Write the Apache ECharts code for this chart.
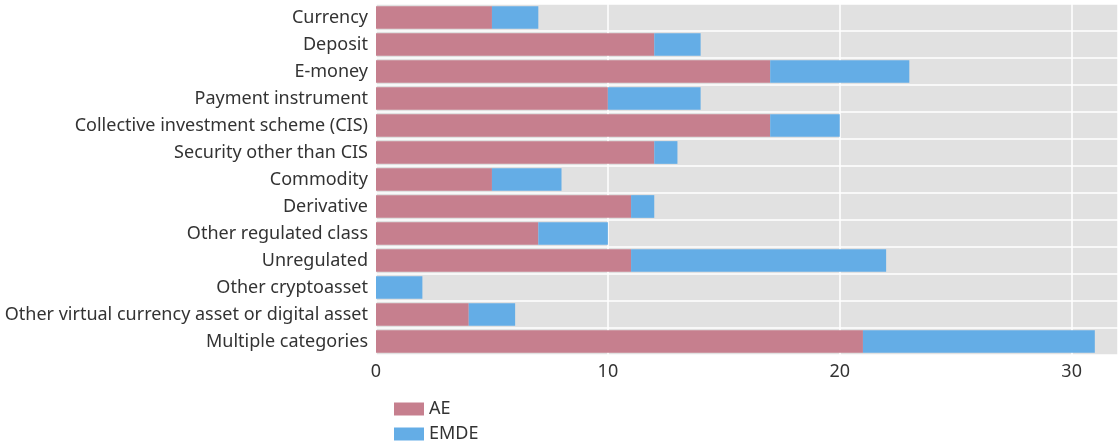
<!DOCTYPE html>
<html><head><meta charset="utf-8">
<script src="https://cdn.jsdelivr.net/npm/echarts@6/dist/echarts.min.js"></script>
<style>html,body{margin:0;padding:0;background:#fff}#c{width:1118px;height:448px}</style>
</head><body><div id="c"></div>
<script>
const categories = ["Currency","Deposit","E-money","Payment instrument","Collective investment scheme (CIS)","Security other than CIS","Commodity","Derivative","Other regulated class","Unregulated","Other cryptoasset","Other virtual currency asset or digital asset","Multiple categories"];
const aeValues = [5,12,17,10,17,12,5,11,7,11,0,4,21];
const emdeValues = [2,2,6,4,3,1,3,1,3,11,2,2,10];
const seriesNames = ["AE","EMDE"];
const chart = echarts.init(document.getElementById('c'));
const font = 'Noto Sans';
const legendBase = {orient:'vertical',left:394,itemWidth:30,itemHeight:13,icon:'rect',padding:0,
    textStyle:{fontFamily:font,fontSize:18,color:'#333'}};
chart.setOption({
  animation:false,
  textStyle:{fontFamily:font},
  grid:{left:376,top:4,right:0,bottom:93,show:true,backgroundColor:'#e1e1e1',borderWidth:0},
  legend:[
    Object.assign({},legendBase,{top:400,data:[seriesNames[0]]}),
    Object.assign({},legendBase,{top:425,data:[seriesNames[1]]})
  ],
  xAxis:{type:'value',min:0,max:32,interval:10,
    axisLabel:{fontFamily:font,fontSize:18,color:'#333',margin:8,showMaxLabel:false},
    axisLine:{show:false},axisTick:{show:false},
    splitLine:{show:true,lineStyle:{color:'#ffffff',width:1.5}}},
  yAxis:{type:'category',data:categories,inverse:true,
    axisLabel:{fontFamily:font,fontSize:18,color:'#333',margin:8},
    axisLine:{show:false},axisTick:{show:false},
    splitLine:{show:true,lineStyle:{color:'#ffffff',width:1.5}}},
  series:[
    {name:'AE',type:'bar',stack:'s',data:aeValues,barCategoryGap:'16%',itemStyle:{color:'#c67f8e'}},
    {name:'EMDE',type:'bar',stack:'s',data:emdeValues,barCategoryGap:'16%',itemStyle:{color:'#64ade6'}}
  ]
});
</script></body></html>
